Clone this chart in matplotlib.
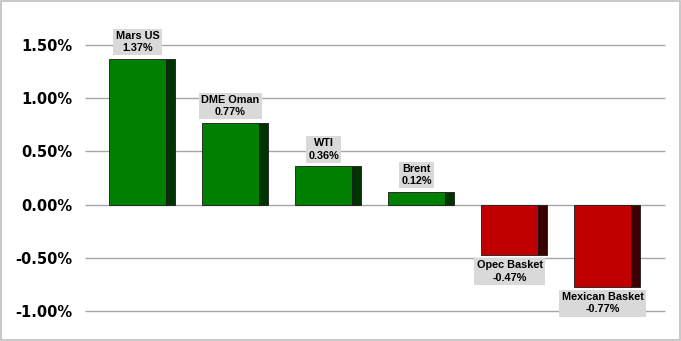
import matplotlib
matplotlib.use('Agg')
import matplotlib.pyplot as plt
import numpy as np

names = ['Mars US', 'DME Oman', 'WTI', 'Brent', 'Opec Basket', 'Mexican Basket']
changes = [1.37, 0.77, 0.36, 0.12, -0.47, -0.77]
yticks = [-1.0, -0.5, 0.0, 0.5, 1.0, 1.5]

fig = plt.figure(figsize=(6.81, 3.41), dpi=100)
ax = fig.add_axes([85 / 681, 30 / 341, 580 / 681, 266 / 341])

x = np.arange(len(names))
front_w = 0.613
side_w = 0.097
for xi, v in zip(x, changes):
    if v >= 0:
        fc, sc = '#008000', '#003300'
    else:
        fc, sc = '#c00000', '#3d0000'
    left = xi - front_w / 2
    ax.bar(left, v, width=front_w, align='edge', color=fc, edgecolor='#1a1a1a',
           linewidth=0.6, zorder=3)
    ax.bar(left + front_w, v, width=side_w, align='edge', color=sc, edgecolor='#1a1a1a',
           linewidth=0.6, zorder=3)
    if v >= 0:
        off, va = (0, 4), 'bottom'
    else:
        off, va = (0, -4), 'top'
    ax.annotate(f'{names[xi]}\n{v:.2f}%', (xi, v), xytext=off, textcoords='offset points',
                ha='center', va=va, fontsize=7.8, fontweight='bold',
                family='Liberation Sans', linespacing=1.3, annotation_clip=False,
                bbox=dict(boxstyle='square,pad=0.2', fc='#d9d9d9', ec='none'), zorder=4)

ax.set_xlim(-0.5645, 5.672)
ax.set_ylim(-1.0, 1.5)
ax.set_yticks(yticks)
ax.set_yticklabels([f'{t:.2f}%' for t in yticks], fontsize=10.5, fontweight='bold',
                   family='DejaVu Sans')
ax.tick_params(axis='y', length=0, pad=9)
ax.set_xticks([])
ax.hlines(yticks, -0.5645, 5.672, colors='#a6a6a6', linewidth=1.0, zorder=0, clip_on=False)
for s in ax.spines.values():
    s.set_visible(False)

fig.patches.append(plt.Rectangle((0.001, 0.002), 0.997, 0.995, transform=fig.transFigure,
                                 fill=False, edgecolor='#bfbfbf', linewidth=1.2))

fig.savefig('out.png', dpi=100)
